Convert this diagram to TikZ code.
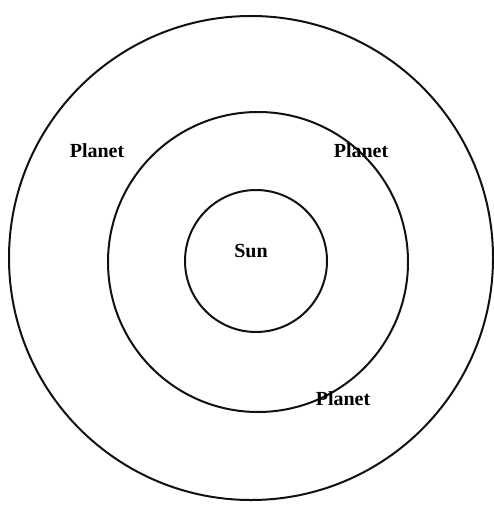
\documentclass[tikz,border=0pt]{standalone}
\usepackage{fontspec}
\setmainfont{Liberation Serif}
\definecolor{orbitblack}{HTML}{111111}

\begin{document}
\begin{tikzpicture}[x=1pt,y=-1pt,line width=2pt]
  \tikzset{lbl/.style={font=\fontsize{20}{24}\selectfont\bfseries,inner sep=0pt}}
  \useasboundingbox (0,0) rectangle (494,508);
  % orbits
  \draw[orbitblack] (251,258) circle[radius=242];
  \draw[orbitblack] (258,262) circle[radius=150];
  \draw[orbitblack] (256,261) circle[radius=71];
  % labels
  \node[lbl] (sun) at (251,251) {Sun};
  \node[lbl] (planetA) at (97,151) {Planet};
  \node[lbl] (planetB) at (361,151) {Planet};
  \node[lbl] (planetC) at (343,399) {Planet};
\end{tikzpicture}
\end{document}
